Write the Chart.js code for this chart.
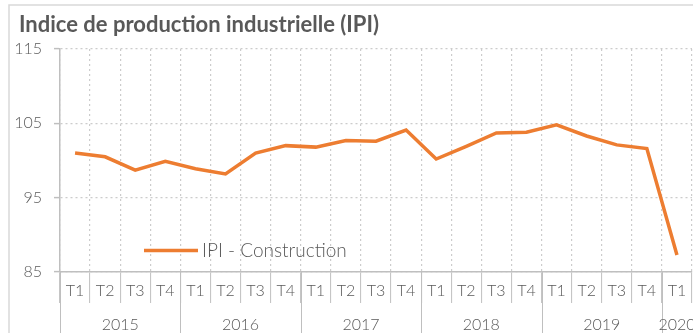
<!DOCTYPE html>
<html>
<head>
<meta charset="utf-8">
<script src="https://cdn.jsdelivr.net/npm/chart.js@4.4.0/dist/chart.umd.min.js"></script>
<style>
    html, body { margin: 0; padding: 0; background: #fff; }
    canvas { display: block; }
</style>
</head>
<body>
<canvas id="ipiChart" width="693" height="333"></canvas>
<script>
const quarters = [
    'T1', 'T2', 'T3', 'T4',
    'T1', 'T2', 'T3', 'T4',
    'T1', 'T2', 'T3', 'T4',
    'T1', 'T2', 'T3', 'T4',
    'T1', 'T2', 'T3', 'T4',
    'T1'
];
const years = [
    '2015', '2015', '2015', '2015',
    '2016', '2016', '2016', '2016',
    '2017', '2017', '2017', '2017',
    '2018', '2018', '2018', '2018',
    '2019', '2019', '2019', '2019',
    '2020'
];
const ipiConstruction = [
    101.0, 100.5, 98.7, 99.9,
    98.9, 98.2, 101.0, 102.0,
    101.8, 102.7, 102.6, 104.1,
    100.2, 101.9, 103.7, 103.8,
    104.8, 103.3, 102.1, 101.6,
    87.3
];
const yTicks = [85, 95, 105, 115];
const chartTitle = 'Indice de production industrielle (IPI)';

const TEXT = '#595959';
const AXIS = '#bfbfbf';
const GRID = '#d9d9d9';
const DOTS = '#cccccc';
const ORANGE = '#ED7D31';
const LIGHT_FONT = { family: 'Lato', weight: 300, size: 16 };

// outer frame, title, year row under the quarters and the in-plot legend
const decorations = {
    id: 'decorations',
    beforeDraw(chart) {
        const ctx = chart.ctx;
        ctx.save();
        ctx.strokeStyle = GRID;
        ctx.lineWidth = 1.5;
        ctx.strokeRect(9, 5, chart.width + 10, chart.height + 10);

        ctx.fillStyle = TEXT;
        ctx.font = 'bold 22px Lato';
        ctx.textAlign = 'left';
        ctx.textBaseline = 'alphabetic';
        ctx.fillText(chartTitle, 19, 32);
        ctx.restore();
    },
    afterDraw(chart) {
        const ctx = chart.ctx;
        const x = chart.scales.x;
        const area = chart.chartArea;
        const step = x.width / quarters.length;

        ctx.save();
        // year groups
        let start = 0;
        for (let i = 1; i <= years.length; i++) {
            if (i === years.length || years[i] !== years[start]) {
                const left = x.getPixelForValue(start) - step / 2;
                const right = x.getPixelForValue(i - 1) + step / 2;
                ctx.strokeStyle = AXIS;
                ctx.lineWidth = 1;
                ctx.beginPath();
                ctx.moveTo(Math.round(left) + 0.5, area.bottom);
                ctx.lineTo(Math.round(left) + 0.5, chart.height);
                ctx.stroke();

                ctx.fillStyle = TEXT;
                ctx.font = '300 16px Lato';
                ctx.textAlign = 'center';
                ctx.textBaseline = 'middle';
                ctx.fillText(years[start], (left + right) / 2, 325);
                start = i;
            }
        }

        // legend sitting inside the plot
        const ds = chart.data.datasets[0];
        const ly = area.bottom - 21.5;
        const lx = area.left + 84;
        ctx.strokeStyle = ds.borderColor;
        ctx.lineWidth = 3.5;
        ctx.beginPath();
        ctx.moveTo(lx, ly);
        ctx.lineTo(lx + 54, ly);
        ctx.stroke();
        ctx.fillStyle = TEXT;
        ctx.font = '300 19px Lato';
        ctx.textAlign = 'left';
        ctx.textBaseline = 'middle';
        ctx.fillText(ds.label, lx + 58, ly);
        ctx.restore();
    }
};

new Chart(document.getElementById('ipiChart'), {
    type: 'line',
    data: {
        labels: quarters,
        datasets: [{
            label: 'IPI - Construction',
            data: ipiConstruction,
            borderColor: ORANGE,
            borderWidth: 3.5,
            pointRadius: 0,
            tension: 0,
            fill: false
        }]
    },
    options: {
        responsive: false,
        animation: false,
        layout: { padding: { top: 49, left: 0, right: 1, bottom: 0 } },
        plugins: {
            legend: { display: false },
            tooltip: { enabled: false },
            title: { display: false }
        },
        scales: {
            x: {
                offset: true,
                grid: {
                    offset: true,
                    color: DOTS,
                    lineWidth: 1.2,
                    drawTicks: true,
                    tickLength: 31,
                    tickColor: AXIS,
                    tickWidth: 1
                },
                border: { color: AXIS, width: 1.5, dash: [2, 3] },
                ticks: {
                    color: TEXT,
                    font: LIGHT_FONT,
                    padding: -22,
                    autoSkip: false,
                    maxRotation: 0
                },
                afterFit(axis) { axis.height = 61; }
            },
            y: {
                min: 85,
                max: 115,
                afterBuildTicks(axis) { axis.ticks = yTicks.map(v => ({ value: v })); },
                grid: {
                    color: DOTS,
                    lineWidth: 1.2,
                    tickLength: 6,
                    tickColor: AXIS,
                    tickWidth: 1.5
                },
                border: { color: AXIS, width: 1.5, dash: [2, 3] },
                ticks: {
                    color: TEXT,
                    font: LIGHT_FONT,
                    padding: 12
                },
                afterFit(axis) { axis.width = 60; }
            }
        }
    },
    plugins: [decorations]
});
</script>
</body>
</html>
